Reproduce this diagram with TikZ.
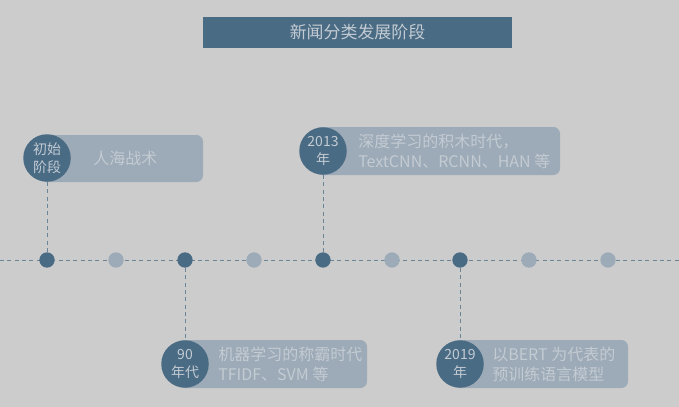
\documentclass[tikz,border=0pt]{standalone}
\usepackage{fontspec}
\setmainfont{Noto Sans CJK SC}
\begin{document}
\begin{tikzpicture}[x=0.75pt,y=-0.75pt,
  stagebox/.style={fill=c2,draw=none,rounded corners=5pt},
  circ/.style={circle,fill=c1,draw=none,minimum size=47.5*0.75pt,inner sep=0pt,text=c3,font=\fontsize{10.5}{13.5}\selectfont,align=center},
  dotd/.style={circle,fill=c1,minimum size=11.5pt,inner sep=0pt},
  dotl/.style={circle,fill=c2,minimum size=11.5pt,inner sep=0pt},
  btxt/.style={anchor=west,text=c3,font=\fontsize{12}{15}\selectfont,align=left,inner sep=0pt},
  vline/.style={draw=c4,dashed,dash pattern=on 3pt off 2.5pt,line width=0.6pt}]
\definecolor{c1}{HTML}{4A6B84}
\definecolor{c2}{HTML}{9DAAB7}
\definecolor{c3}{HTML}{C3CBD3}
\definecolor{c4}{HTML}{6A8598}
\definecolor{bg}{HTML}{CCCCCC}
\fill[bg] (0,0) rectangle (679,407);
\useasboundingbox (0,0) rectangle (679,407);
% title
\node[fill=c1,minimum width=309*0.75pt,minimum height=31*0.75pt,inner sep=0pt,text=c3,font=\fontsize{12.7}{15}\selectfont] (title) at (357.5,32.5) {新闻分类发展阶段};
% axis
\coordinate (L) at (0,260);
\coordinate (R) at (679,260);
\draw[vline] (L) -- (R);
% boxes
\fill[stagebox] (40,135) rectangle (203,182);
\fill[stagebox] (315,127) rectangle (560,175);
\fill[stagebox] (178,340) rectangle (367,388);
\fill[stagebox] (453,340) rectangle (628,388);
% dots
\node[dotd] (d1) at (47,260) {};
\node[dotl] (d2) at (116,260) {};
\node[dotd] (d3) at (185,260) {};
\node[dotl] (d4) at (254,260) {};
\node[dotd] (d5) at (323,260) {};
\node[dotl] (d6) at (392,260) {};
\node[dotd] (d7) at (460,260) {};
\node[dotl] (d8) at (529,260) {};
\node[dotl] (d9) at (608,260) {};
% circles
\node[circ] (c1n) at (47,158) {初始\\阶段};
\node[circ] (c2n) at (323,151) {2013\\年};
\node[circ] (c3n) at (185,364) {90\\年代};
\node[circ] (c4n) at (460,364) {2019\\年};
% connectors
\draw[vline] (c1n) -- (d1);
\draw[vline] (c2n) -- (d5);
\draw[vline] (d3) -- (c3n);
\draw[vline] (d7) -- (c4n);
% texts
\node[btxt] (t1) at (93,158) {人海战术};
\node[btxt] (t2) at (358,151) {深度学习的积木时代，\\TextCNN、RCNN、HAN 等};
\node[btxt] (t3) at (218,364) {机器学习的称霸时代\\TFIDF、SVM 等};
\node[btxt] (t4) at (492,364) {以BERT 为代表的\\预训练语言模型};
\end{tikzpicture}
\end{document}
